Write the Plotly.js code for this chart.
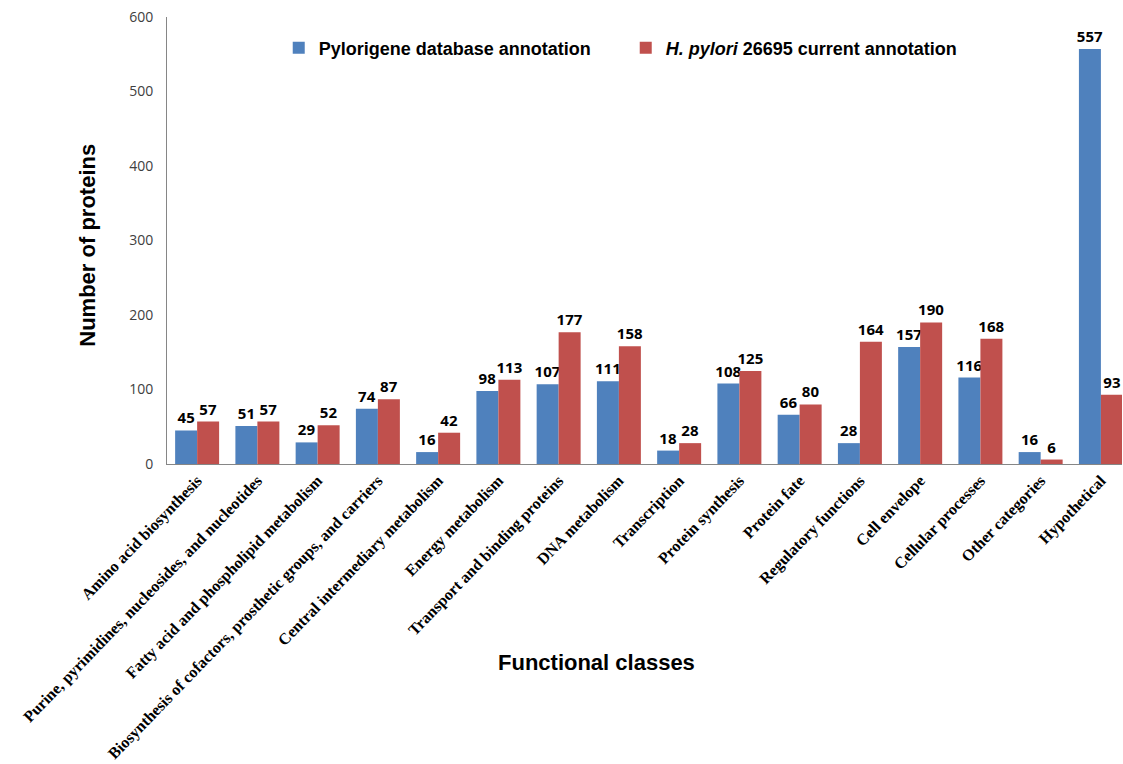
<!DOCTYPE html>
<html>
<head>
<meta charset="utf-8">
<script src="https://cdn.plot.ly/plotly-3.0.1.min.js"></script>
<style>html,body{margin:0;padding:0;background:#fff;}#chart{width:1123px;height:764px;}</style>
</head>
<body>
<div id="chart"></div>
<script>
const categories = [
  "Amino acid biosynthesis",
  "Purine, pyrimidines, nucleosides, and nucleotides",
  "Fatty acid and phospholipid metabolism",
  "Biosynthesis of cofactors, prosthetic groups, and carriers",
  "Central intermediary metabolism",
  "Energy metabolism",
  "Transport and binding proteins",
  "DNA metabolism",
  "Transcription",
  "Protein synthesis",
  "Protein fate",
  "Regulatory functions",
  "Cell envelope",
  "Cellular processes",
  "Other categories",
  "Hypothetical"
];
const pylorigene = [45, 51, 29, 74, 16, 98, 107, 111, 18, 108, 66, 28, 157, 116, 16, 557];
const current26695 = [57, 57, 52, 87, 42, 113, 177, 158, 28, 125, 80, 164, 190, 168, 6, 93];
const yTicks = [0, 100, 200, 300, 400, 500, 600];

const labelFont = {family: "Open Sans, Liberation Sans, Arial", size: 15, color: "#000", weight: 700};

const traces = [
  {
    type: "bar", x: categories, y: pylorigene,
    name: "<b>Pylorigene database annotation</b>",
    marker: {color: "#4F81BD"},
    text: pylorigene.map(String), textposition: "outside", constraintext: "none",
    textfont: labelFont, cliponaxis: false
  },
  {
    type: "bar", x: categories, y: current26695,
    name: "<b><i>H. pylori</i> 26695 current annotation</b>",
    marker: {color: "#C0504D"},
    text: current26695.map(String), textposition: "outside", constraintext: "none",
    textfont: labelFont, cliponaxis: false
  }
];

const layout = {
  width: 1123, height: 764,
  margin: {l: 167, r: 1, t: 17, b: 300},
  paper_bgcolor: "#fff", plot_bgcolor: "#fff",
  barmode: "group", bargap: 0.27, bargroupgap: 0,
  showlegend: true,
  legend: {
    orientation: "h", x: 0.117, y: 0.972, xanchor: "left", yanchor: "top",
    font: {family: "Liberation Sans, Arial", size: 18, color: "#000"},
    entrywidth: 302, entrywidthmode: "pixels",
    itemsizing: "constant", bgcolor: "rgba(0,0,0,0)"
  },
  xaxis: {
    type: "category", range: [-0.5, 15.35],
    showline: true, linecolor: "#868686", linewidth: 1,
    showgrid: false, zeroline: false,
    tickangle: -46, ticks: "",
    tickfont: {family: "Liberation Serif, Times New Roman", size: 16, color: "#000", weight: 700},
    automargin: false
  },
  yaxis: {
    range: [0, 600], tickvals: yTicks, ticktext: yTicks.map(String),
    showline: true, linecolor: "#868686", linewidth: 1,
    showgrid: false, zeroline: false, ticks: "",
    tickfont: {family: "Open Sans, Liberation Sans", size: 14, color: "#404040"},
    ticklabelstandoff: 10,
    automargin: false
  },
  annotations: [
    {text: "<b>Number of proteins</b>", xref: "paper", yref: "paper",
     x: -0.083, y: 0.49, xanchor: "center", yanchor: "middle", textangle: -90, showarrow: false,
     font: {family: "Liberation Sans, Arial", size: 22, color: "#000"}},
    {text: "<b>Functional classes</b>", xref: "paper", yref: "paper",
     x: 0.45, y: -0.443, xanchor: "center", yanchor: "middle", showarrow: false,
     font: {family: "Liberation Sans, Arial", size: 22, color: "#000"}}
  ]
};

Plotly.newPlot("chart", traces, layout, {displayModeBar: false, staticPlot: true});
</script>
</body>
</html>
